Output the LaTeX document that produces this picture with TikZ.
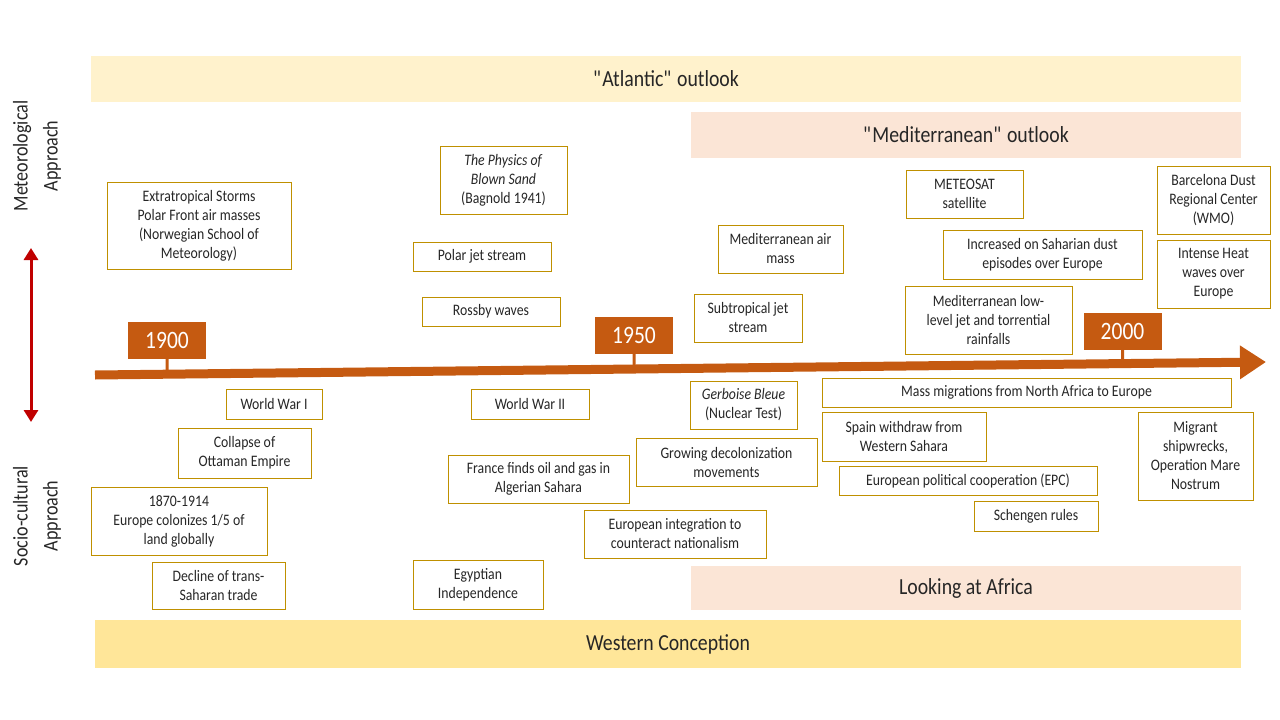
\documentclass[tikz,border=0pt]{standalone}
\usepackage{fontspec}
\setmainfont{Carlito}[FakeStretch=0.86]
\usetikzlibrary{arrows.meta,calc}

\definecolor{rust}{HTML}{C55A11}
\definecolor{ochre}{HTML}{BF9000}
\definecolor{cream}{HTML}{FFF2CC}
\definecolor{butter}{HTML}{FFE699}
\definecolor{peach}{HTML}{FBE5D6}
\definecolor{crimson}{HTML}{C00000}
\definecolor{ink}{HTML}{262626}

\begin{document}
\begin{tikzpicture}[x=1pt, y=-1pt, every node/.style={text=ink}]
  \useasboundingbox (0,0) rectangle (1280,720);
  \tikzset{
    band/.style={inner sep=0pt, font=\fontsize{23}{27}\selectfont},
    event/.style={draw=ochre, line width=0.9pt, inner sep=0pt, align=center, font=\fontsize{16}{19}\selectfont},
    year/.style={fill=rust, text=white, inner sep=0pt, minimum width=78, minimum height=37, font=\fontsize{25}{28}\selectfont},
    approach/.style={rotate=90, align=center, font=\fontsize{21}{30}\selectfont}
  }

  % Outlook bands above and below the timeline.
  \node[band, fill=cream, minimum width=1150, minimum height=46] (atlantic) at (666,79) {\textquotedbl Atlantic\textquotedbl{} outlook};
  \node[band, fill=peach, minimum width=550, minimum height=46] (mediterranean) at (966,135) {\textquotedbl Mediterranean\textquotedbl{} outlook};
  \node[band, fill=peach, minimum width=550, minimum height=44] (africa) at (966,588) {Looking at Africa};
  \node[band, fill=butter, minimum width=1146, minimum height=48] (western) at (668,644) {Western Conception};

  % The two approaches and the arrow between them.
  \node[approach] (meteo) at (37,156) {Meteorological\\Approach};
  \node[approach] (socio) at (37,516) {Socio-cultural\\Approach};
  \coordinate (upTip) at (31,248);
  \coordinate (downTip) at (31,422);
  \draw[crimson, line width=3pt, {Triangle[length=12pt,width=14pt]}-{Triangle[length=12pt,width=14pt]}] (upTip) -- (downTip);

  % Timeline with its year markers.
  \coordinate (axisL) at (95,375);
  \coordinate (axisR) at (1266,362);
  \draw[rust, line width=9pt, -{Triangle[length=26pt,width=32pt]}] (axisL) -- (axisR);
  \node[year] (y1900) at (167,340.5) {1900};
  \node[year] (y1950) at (634,335.5) {1950};
  \node[year] (y2000) at (1122.5,331) {2000};
  \foreach \yr in {y1900,y1950,y2000}
    \draw[rust, line width=3pt] (\yr.south) -- ($(axisL)!(\yr.south)!(axisR)$);

  % Meteorological events.
  \node[event, minimum width=184, minimum height=87] (storms) at (199,225.5) {Extratropical Storms\\Polar Front air masses\\(Norwegian School of\\Meteorology)};
  \node[event, minimum width=127, minimum height=68] (sand) at (503.5,180) {\textit{The Physics of}\\\textit{Blown Sand}\\(Bagnold 1941)};
  \node[event, minimum width=138, minimum height=29] (polarjet) at (482,256.5) {Polar jet stream};
  \node[event, minimum width=138, minimum height=29] (rossby) at (491,311.5) {Rossby waves};
  \node[event, minimum width=125, minimum height=48] (medair) at (780.5,249) {Mediterranean air\\mass};
  \node[event, minimum width=108, minimum height=48] (subjet) at (748,318) {Subtropical jet\\stream};
  \node[event, minimum width=117, minimum height=48] (meteosat) at (964.5,194) {METEOSAT\\satellite};
  \node[event, minimum width=199, minimum height=49] (dust) at (1042.5,254.5) {Increased on Saharian dust\\episodes over Europe};
  \node[event, minimum width=167, minimum height=68] (lowjet) at (988.5,320) {Mediterranean low-\\level jet and torrential\\rainfalls};
  \node[event, minimum width=113, minimum height=68] (dustcenter) at (1213.5,200) {Barcelona Dust\\Regional Center\\(WMO)};
  \node[event, minimum width=113, minimum height=68] (heat) at (1213.5,274) {Intense Heat\\waves over\\Europe};

  % Socio-cultural events.
  \node[event, minimum width=96, minimum height=30] (wwi) at (274,404) {World War I};
  \node[event, minimum width=133, minimum height=50] (ottoman) at (244.5,453) {Collapse of\\Ottaman Empire};
  \node[event, minimum width=176, minimum height=68] (colonies) at (179,521) {1870-1914\\Europe colonizes 1/5 of\\land globally};
  \node[event, minimum width=133, minimum height=47] (trade) at (218.5,585.5) {Decline of trans-\\Saharan trade};
  \node[event, minimum width=118, minimum height=30] (wwii) at (530,404) {World War II};
  \node[event, minimum width=181, minimum height=48] (oil) at (538.5,479) {France finds oil and gas in\\Algerian Sahara};
  \node[event, minimum width=130, minimum height=49] (egypt) at (478,584.5) {Egyptian\\Independence};
  \node[event, minimum width=182, minimum height=48] (integration) at (675,534) {European integration to\\counteract nationalism};
  \node[event, minimum width=107, minimum height=48] (gerboise) at (743.5,405) {\textit{Gerboise Bleue}\\(Nuclear Test)};
  \node[event, minimum width=181, minimum height=48] (decolonize) at (726.5,462) {Growing decolonization\\movements};
  \node[event, minimum width=409, minimum height=29] (migration) at (1026.5,392.5) {Mass migrations from North Africa to Europe};
  \node[event, minimum width=164, minimum height=49] (spain) at (904,436.5) {Spain withdraw from\\Western Sahara};
  \node[event, minimum width=258, minimum height=29] (epc) at (968,480.5) {European political cooperation (EPC)};
  \node[event, minimum width=124, minimum height=30] (schengen) at (1036,516) {Schengen rules};
  \node[event, minimum width=115, minimum height=88] (shipwrecks) at (1195.5,456) {Migrant\\shipwrecks,\\Operation Mare\\Nostrum};
\end{tikzpicture}
\end{document}
